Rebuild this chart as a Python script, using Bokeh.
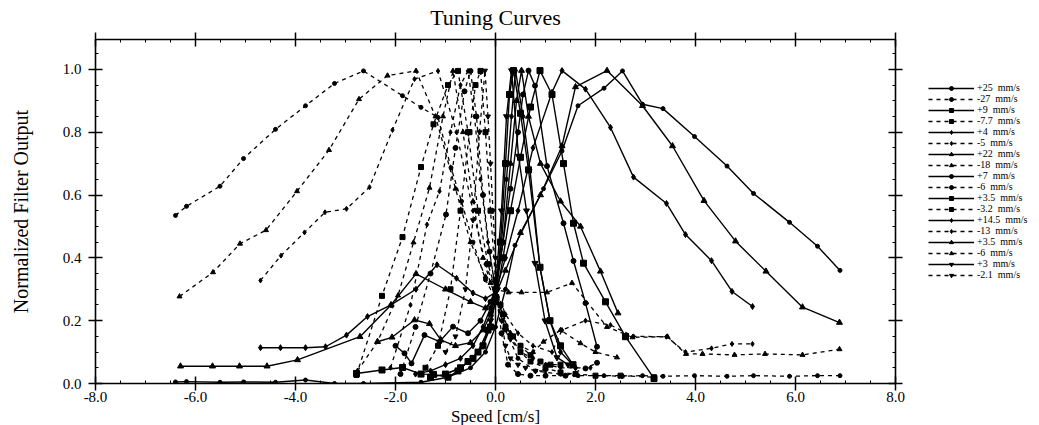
from bokeh.plotting import figure
from bokeh.layouts import row
from bokeh.models import (Range1d, LinearAxis, FixedTicker, PrintfTickFormatter,
                          CustomJSTickFormatter, Legend, LegendItem, Span)
from bokeh.embed import file_html
from bokeh.resources import INLINE

# ---------------- data (speed in cm/s, normalized output) ----------------
x_p25 = [-6.40,-6.18,-5.51,-5.04,-4.40,-3.80,-3.22,-2.64,-1.49,-0.95,-0.5,-0.2,0.0,0.2,0.39,0.96,1.33,1.65,2.17,2.54,2.94,3.35,3.98,4.63,5.16,5.88,6.44,6.89]
y_p25 = [0.005,0.006,0.004,0.005,0.004,0.011,0.0,0.0,0.004,0.02,0.05,0.10,0.18,0.30,0.44,0.62,0.74,0.884,0.940,0.995,0.889,0.875,0.786,0.692,0.605,0.513,0.437,0.36]

x_m27 = [-6.40,-6.18,-5.51,-5.04,-4.40,-3.80,-3.22,-2.64,-1.86,-1.49,-1.15,-0.89,-0.68,-0.45,-0.2,0.0,0.2,0.45,0.8,1.3,1.65,2.17,2.54,2.94,3.35,3.98,4.63,5.16,5.88,6.44,6.89]
y_m27 = [0.535,0.564,0.628,0.716,0.809,0.884,0.955,0.995,0.916,0.879,0.847,0.687,0.58,0.45,0.33,0.27,0.17,0.08,0.04,0.03,0.025,0.025,0.023,0.025,0.023,0.025,0.023,0.025,0.023,0.025,0.025]

x_p9 = [-2.78,-2.27,-1.86,-1.49,-1.24,-0.95,-0.75,-0.55,-0.35,-0.15,0.0,0.15,0.3,0.5,0.7,0.89,1.13,1.36,1.56,1.76,2.20,2.60,3.17]
y_p9 = [0.032,0.043,0.051,0.030,0.029,0.02,0.04,0.07,0.10,0.17,0.26,0.40,0.55,0.72,0.88,0.996,0.92,0.70,0.51,0.383,0.26,0.149,0.016]

x_m77 = [-2.78,-2.27,-1.86,-1.49,-1.24,-0.95,-0.75,-0.55,-0.35,-0.15,0.0,0.15,0.3,0.5,0.7,1.0,1.3,1.6,2.0,2.5,3.17]
y_m77 = [0.027,0.279,0.466,0.689,0.825,0.95,0.995,0.80,0.55,0.38,0.30,0.22,0.15,0.10,0.07,0.05,0.035,0.03,0.025,0.025,0.02]

x_p4 = [-1.6,-1.3,-1.0,-0.7,-0.45,-0.25,-0.1,0.0,0.12,0.22,0.32,0.40,0.55,0.69,0.89,1.09,1.3,1.6]
y_p4 = [0.03,0.04,0.06,0.08,0.12,0.18,0.24,0.30,0.45,0.65,0.85,0.996,0.85,0.68,0.37,0.2,0.1,0.05]

x_m5 = [-2.1,-1.7,-1.37,-1.12,-0.9,-0.7,-0.55,-0.42,-0.3,-0.15,0.0,0.15,0.3,0.5,0.75,1.0,1.3,1.6,1.9]
y_m5 = [0.05,0.25,0.506,0.612,0.80,0.95,0.995,0.85,0.65,0.45,0.30,0.20,0.14,0.10,0.08,0.06,0.05,0.05,0.05]

x_p22 = [-6.30,-5.66,-5.12,-4.57,-3.96,-2.71,-2.09,-1.59,-1.0,-0.5,-0.2,0.0,0.2,0.5,0.9,1.33,1.60,2.23,2.94,3.54,4.17,4.80,5.41,6.14,6.88]
y_p22 = [0.055,0.055,0.055,0.055,0.075,0.149,0.25,0.349,0.30,0.26,0.24,0.28,0.36,0.48,0.60,0.756,0.944,0.996,0.884,0.756,0.582,0.453,0.357,0.243,0.194]

x_m18 = [-6.32,-5.65,-5.11,-4.59,-3.97,-3.33,-2.73,-2.16,-1.59,-1.2,-0.8,-0.5,-0.2,0.0,0.26,0.52,1.03,1.53,2.23,2.74,3.44,3.81,4.14,4.78,5.39,6.14,6.88]
y_m18 = [0.277,0.354,0.445,0.488,0.612,0.743,0.905,0.980,0.995,0.85,0.62,0.45,0.34,0.30,0.29,0.29,0.29,0.32,0.18,0.147,0.149,0.094,0.094,0.091,0.094,0.091,0.109]

x_p7 = [-2.0,-1.82,-1.68,-1.42,-1.12,-0.85,-0.55,-0.3,-0.1,0.0,0.15,0.3,0.45,0.55,0.66,0.79,1.03,1.36,1.56,1.80,2.03]
y_p7 = [0.12,0.096,0.064,0.154,0.133,0.181,0.16,0.2,0.26,0.30,0.45,0.62,0.80,0.92,0.996,0.948,0.692,0.51,0.39,0.256,0.117]

x_m6c = [-1.9,-1.6,-1.3,-0.99,-0.8,-0.62,-0.5,-0.38,-0.25,-0.12,0.0,0.12,0.25,0.45,0.7,1.0,1.4,1.8,2.03]
y_m6c = [0.03,0.18,0.35,0.538,0.75,0.93,0.995,0.85,0.6,0.42,0.30,0.16,0.06,0.03,0.025,0.025,0.025,0.048,0.066]

x_p35s = [-1.3,-1.0,-0.7,-0.45,-0.25,-0.1,0.0,0.1,0.2,0.28,0.36,0.5,0.66,0.89,1.09,1.3,1.55]
y_p35s = [0.02,0.03,0.05,0.08,0.12,0.18,0.27,0.45,0.70,0.92,0.996,0.86,0.68,0.37,0.2,0.12,0.06]

x_m32 = [-1.4,-1.15,-0.9,-0.7,-0.52,-0.4,-0.3,-0.2,-0.1,0.0,0.1,0.2,0.35,0.5,0.7,0.9,1.1,1.3]
y_m32 = [0.05,0.12,0.3,0.55,0.8,0.95,0.995,0.8,0.55,0.33,0.25,0.18,0.15,0.12,0.09,0.07,0.06,0.06]

x_p145 = [-4.70,-4.30,-3.80,-3.40,-2.98,-2.56,-2.09,-1.59,-1.17,-0.78,-0.45,-0.2,0.0,0.2,0.45,0.75,1.13,1.33,1.80,2.30,2.76,3.42,3.80,4.32,4.73,5.14]
y_p145 = [0.114,0.114,0.114,0.117,0.154,0.213,0.250,0.300,0.378,0.335,0.288,0.27,0.29,0.40,0.55,0.75,0.927,0.996,0.937,0.815,0.657,0.573,0.474,0.391,0.293,0.245]

x_m13 = [-4.70,-4.29,-3.82,-3.41,-2.98,-2.52,-2.06,-1.62,-1.15,-0.78,-0.45,-0.2,0.0,0.2,0.45,0.75,1.13,1.33,1.80,2.30,2.76,3.42,3.80,4.32,4.73,5.14]
y_m13 = [0.328,0.407,0.481,0.545,0.556,0.625,0.807,0.969,0.995,0.80,0.55,0.38,0.30,0.22,0.16,0.12,0.10,0.17,0.20,0.186,0.15,0.149,0.10,0.112,0.126,0.126]

x_p35t = [-2.36,-2.07,-1.62,-1.32,-1.09,-0.8,-0.5,-0.25,-0.1,0.0,0.15,0.3,0.42,0.52,0.66,0.9,1.3,1.70,2.10,2.45]
y_p35t = [0.133,0.147,0.202,0.19,0.138,0.12,0.13,0.17,0.22,0.28,0.45,0.7,0.9,0.996,0.85,0.7,0.58,0.50,0.357,0.224]

x_m6t = [-2.76,-2.36,-1.95,-1.64,-1.32,-1.05,-0.85,-0.65,-0.45,-0.25,-0.1,0.0,0.15,0.3,0.5,0.75,0.96,1.3,1.70,2.0,2.43]
y_m6t = [0.04,0.133,0.28,0.449,0.623,0.85,0.995,0.80,0.58,0.40,0.32,0.28,0.22,0.16,0.12,0.10,0.133,0.17,0.128,0.10,0.083]

x_p3 = [-1.0,-0.7,-0.45,-0.25,-0.1,0.0,0.12,0.22,0.32,0.46,0.62,0.79,0.99,1.23,1.45]
y_p3 = [0.03,0.05,0.08,0.12,0.2,0.3,0.55,0.85,0.996,0.724,0.55,0.383,0.20,0.083,0.06]

x_m21 = [-1.0,-0.8,-0.6,-0.45,-0.32,-0.21,-0.15,-0.1,-0.05,0.0,0.05,0.12,0.2,0.3,0.45,0.6,0.8,1.0]
y_m21 = [0.1,0.15,0.3,0.52,0.8,0.996,0.85,0.7,0.55,0.40,0.3,0.2,0.12,0.08,0.06,0.05,0.04,0.04]

labels = ["+25  mm/s", "-27  mm/s", "+9  mm/s", "-7.7  mm/s", "+4  mm/s", "-5  mm/s",
          "+22  mm/s", "-18  mm/s", "+7  mm/s", "-6  mm/s", "+3.5  mm/s", "-3.2  mm/s",
          "+14.5  mm/s", "-13  mm/s", "+3.5  mm/s", "-6  mm/s", "+3  mm/s", "-2.1  mm/s"]
xs = [x_p25, x_m27, x_p9, x_m77, x_p4, x_m5, x_p22, x_m18, x_p7, x_m6c,
      x_p35s, x_m32, x_p145, x_m13, x_p35t, x_m6t, x_p3, x_m21]
ys = [y_p25, y_m27, y_p9, y_m77, y_p4, y_m5, y_p22, y_m18, y_p7, y_m6c,
      y_p35s, y_m32, y_p145, y_m13, y_p35t, y_m6t, y_p3, y_m21]
markers = ["circle", "circle", "square", "square", "diamond", "diamond",
           "triangle", "triangle", "circle", "circle", "square", "square",
           "diamond", "diamond", "triangle", "triangle", "inverted_triangle", "inverted_triangle"]
sizes = [4, 4, 6, 5, 6, 5, 6, 5, 5, 5, 6, 5, 6, 5, 6, 5, 6, 5]

x_ticks = [-8, -6, -4, -2, 0, 2, 4, 6, 8]
y_ticks = [0.0, 0.2, 0.4, 0.6, 0.8, 1.0]

# ---------------- main figure ----------------
FONT = "Liberation Serif"
p = figure(frame_width=800, frame_height=344, x_range=Range1d(-8, 8), y_range=Range1d(0, 1.095),
           output_backend="svg", toolbar_location=None, title="Tuning Curves",
           min_border_left=95, min_border_right=12, min_border_top=10, min_border_bottom=5)
p.title.text_font = FONT
p.title.text_font_size = "22px"
p.title.text_font_style = "normal"
p.title.text_color = "black"
p.title.align = "center"
p.title.standoff = 5
p.grid.visible = False
p.outline_line_color = None
p.background_fill_color = "white"

xminor = [-8 + 0.5 * i for i in range(33)]
yminor = [0.05 * i for i in range(23)]


def style(ax, labels_on=True):
    ax.axis_line_width = 1.6
    ax.axis_line_color = "black"
    ax.major_tick_line_width = 1.5
    ax.major_tick_line_color = "black"
    ax.minor_tick_line_width = 1
    ax.minor_tick_line_color = "black"
    ax.major_tick_in = 7
    ax.major_tick_out = 7
    ax.minor_tick_in = 3
    ax.minor_tick_out = 0
    ax.major_label_text_font = FONT
    ax.major_label_text_font_size = "15px"
    ax.major_label_text_color = "black"
    ax.axis_label_text_font = FONT
    ax.axis_label_text_font_style = "normal"
    ax.axis_label_text_color = "black"
    if not labels_on:
        ax.formatter = CustomJSTickFormatter(code="return ''")
        ax.major_label_text_font_size = "1px"
        ax.major_label_standoff = 0


xa = p.xaxis[0]
xa.ticker = FixedTicker(ticks=x_ticks, minor_ticks=xminor)
xa.formatter = PrintfTickFormatter(format="%.1f")
style(xa)
xa.major_label_standoff = 1
xa.axis_label = "Speed [cm/s]"
xa.axis_label_text_font_size = "17px"
xa.axis_label_standoff = 2

ya = p.yaxis[0]
ya.ticker = FixedTicker(ticks=y_ticks, minor_ticks=yminor)
ya.formatter = PrintfTickFormatter(format="%.1f")
style(ya)
ya.major_label_standoff = 7
ya.axis_label = "Normalized Filter Output"
ya.axis_label_text_font_size = "20px"
ya.axis_label_standoff = 28

top = LinearAxis(ticker=FixedTicker(ticks=x_ticks, minor_ticks=xminor))
style(top, labels_on=False)
p.add_layout(top, "above")
right = LinearAxis(ticker=FixedTicker(ticks=y_ticks, minor_ticks=yminor))
style(right, labels_on=False)
p.add_layout(right, "right")

p.add_layout(Span(location=0, dimension="height", line_color="black", line_width=1.5))

# ---------------- legend panel (separate small figure, its curves lie out of view) ----------------
q = figure(width=130, height=425, x_range=Range1d(100, 101), y_range=Range1d(100, 101),
           x_axis_type=None, y_axis_type=None, output_backend="svg", toolbar_location=None,
           min_border=0, outline_line_color=None)
q.grid.visible = False

items = []
for i in range(len(labels)):
    dash = "solid" if i % 2 == 0 else "4 4"
    lw = 1.4 if i % 2 == 0 else 1.3
    p.line(xs[i], ys[i], line_color="black", line_width=lw, line_dash=dash)
    p.scatter(xs[i], ys[i], marker=markers[i], size=sizes[i], color="black")
    ql = q.line(xs[i], ys[i], line_color="black", line_width=lw, line_dash=dash)
    qs = q.scatter(xs[i], ys[i], marker=markers[i], size=sizes[i], color="black")
    items.append(LegendItem(label=labels[i], renderers=[ql, qs]))

legend = Legend(items=items, location=(21, 100))
legend.label_text_font = FONT
legend.label_text_font_size = "10px"
legend.label_text_color = "black"
legend.label_height = 10
legend.glyph_height = 10
legend.glyph_width = 46
legend.label_standoff = 3
legend.spacing = 0
legend.padding = 0
legend.margin = 0
legend.border_line_color = None
legend.background_fill_alpha = 0
q.add_layout(legend, "center")

layout = row(p, q)
open("out.html", "w").write(file_html(layout, INLINE))
